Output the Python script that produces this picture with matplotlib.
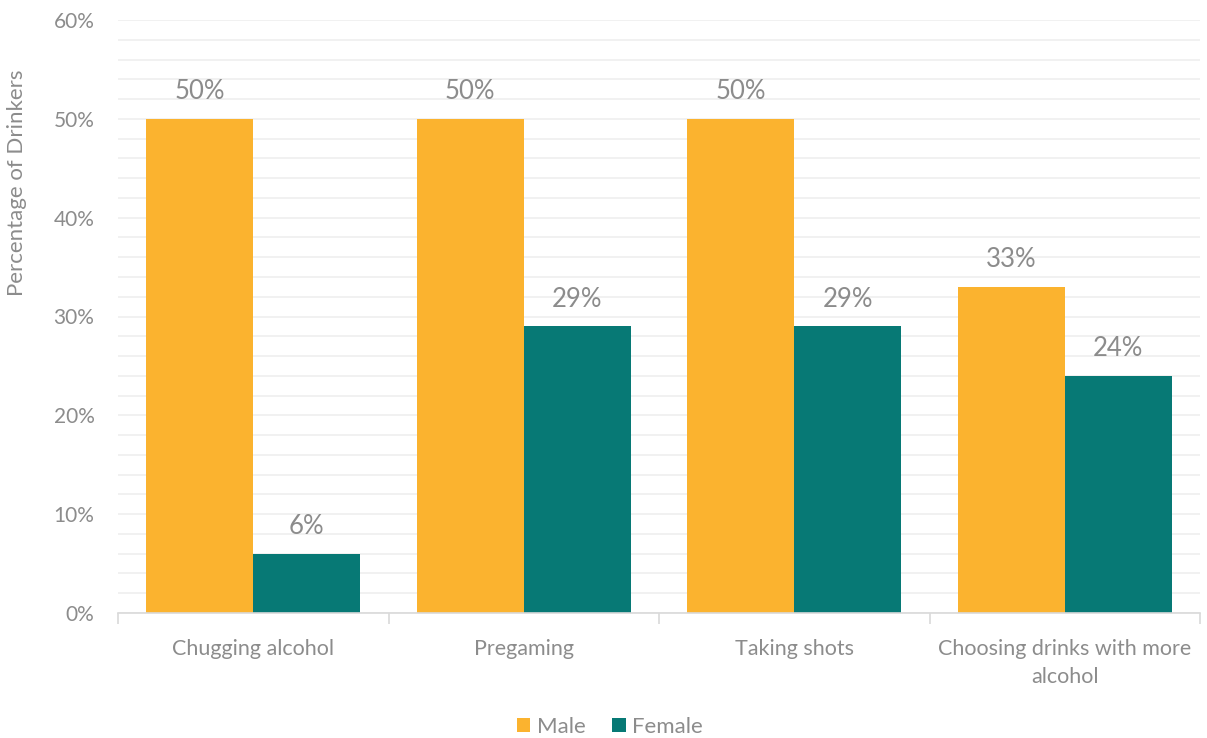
import matplotlib.pyplot as plt
import numpy as np
from matplotlib.ticker import MultipleLocator, FuncFormatter

categories = ['Chugging alcohol', 'Pregaming', 'Taking shots', 'Choosing drinks with more\nalcohol']
male = [50, 50, 50, 33]
female = [6, 29, 29, 24]

male_color = '#FBB32F'
female_color = '#077975'
text_color = '#8C8C8C'
grid_color = '#EFEFEF'

plt.rcParams['font.family'] = ['Lato', 'DejaVu Sans']

fig = plt.figure(figsize=(12.07, 7.38), dpi=100)
ax = fig.add_axes([118 / 1207, 1 - 613 / 738, (1200 - 118) / 1207, (613 - 20) / 738])

x = np.arange(len(categories))
width = 0.395
b1 = ax.bar(x - width / 2, male, width, color=male_color, label='Male', zorder=2)
b2 = ax.bar(x + width / 2, female, width, color=female_color, label='Female', zorder=2)

for bars, vals in ((b1, male), (b2, female)):
    for bar, v in zip(bars, vals):
        ax.text(bar.get_x() + bar.get_width() / 2, v + 1.5, f'{v}%',
                ha='center', va='bottom', fontsize=18.5, color=text_color)

ax.set_xlim(-0.5, len(categories) - 0.5)
ax.set_ylim(0, 60)
ax.yaxis.set_major_locator(MultipleLocator(10))
ax.yaxis.set_minor_locator(MultipleLocator(2))
ax.yaxis.set_major_formatter(FuncFormatter(lambda v, p: f'{int(v)}%'))
ax.grid(axis='y', which='both', color=grid_color, linewidth=1.2, zorder=0)

ax.set_xticks(x)
ax.set_xticklabels(categories, linespacing=1.45)
ax.set_xticks(np.arange(len(categories) + 1) - 0.5, minor=True)
ax.tick_params(axis='x', which='major', length=0, pad=19, labelsize=15.5, labelcolor=text_color)
ax.tick_params(axis='x', which='minor', length=8, color='#D9D9D9', width=1.2)
ax.tick_params(axis='y', which='both', length=0, pad=17, labelsize=15, labelcolor=text_color)

for s in ('top', 'right', 'left'):
    ax.spines[s].set_visible(False)
ax.spines['bottom'].set_color('#D9D9D9')
ax.spines['bottom'].set_linewidth(1.2)

fig.text(17 / 1207, 1 - 183 / 738, 'Percentage of Drinkers', rotation=90,
         ha='center', va='center', fontsize=16, color=text_color)

fig.legend(handles=[b1, b2], labels=['Male', 'Female'], loc='center',
           bbox_to_anchor=(610 / 1207, 1 - 727 / 738), ncol=2, frameon=False,
           fontsize=16, labelcolor=text_color, handlelength=0.6, handleheight=0.6,
           handletextpad=0.3, columnspacing=1.2)

fig.savefig('out.png', dpi=100)
